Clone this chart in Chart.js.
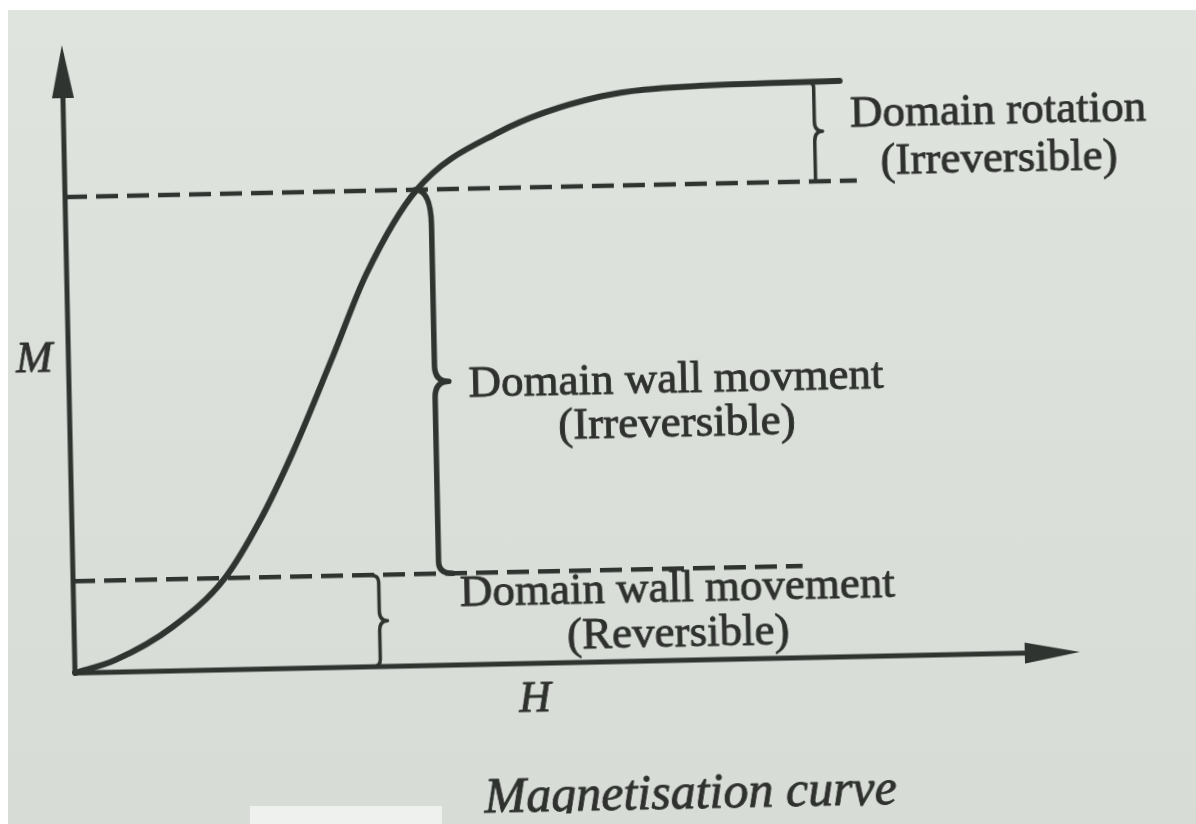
<!DOCTYPE html>
<html>
<head>
<meta charset="utf-8">
<script src="https://cdn.jsdelivr.net/npm/chart.js@4/dist/chart.umd.min.js"></script>
<style>
  html, body { margin: 0; padding: 0; background: #ffffff; width: 1196px; height: 824px; overflow: hidden; }
  #paper { position: absolute; left: 8px; top: 10px; right: 0; bottom: 0;
           background: linear-gradient(180deg, #e0e4df 0%, #dadfd9 55%, #d7dcd6 100%); }
  #patch { position: absolute; left: 250px; top: 806px; width: 192px; height: 18px; background: #eef1ed; }
  #wrap { position: absolute; left: 0; top: 0; width: 1196px; height: 824px;
          transform: rotate(-1.2deg); transform-origin: 75px 673px; }
</style>
</head>
<body>
<div id="paper"></div>
<div id="patch"></div>
<div id="wrap"><canvas id="c" width="1196" height="824"></canvas></div>
<script>
// ---- data (H and M in axis-percent units) ----
const curveH = [0, 4.0, 9.8, 15.1, 18.7, 22.1, 26.3, 29.8, 35.0, 43.2, 53.4, 63.4, 77.3];
const curveM = [0, 1.9, 7.0, 14.6, 23.6, 34.3, 49.5, 62.5, 75.8, 84.6, 90.0, 91.4, 91.7];
const axisMax = [100, 100];              // H tip, M tip
const dashLevels = [14.6, 75.8];         // M levels of dashed lines
const dashEnds = [72.6, 78.8];           // H where the dashed lines stop
const braceH = [30.4, 36.4, 74.7];       // H of each brace
const braceFrom = [0, 14.6, 75.8];       // lower M of each brace
const braceTo = [14.6, 75.8, 91.7];      // upper M of each brace
const labels = [
  ["Domain rotation", "(Irreversible)"],
  ["Domain wall movment", "(Irreversible)"],
  ["Domain wall movement", "(Reversible)"]
];
const axisTitles = ["H", "M"];
const caption = "Magnetisation curve";

const INK = "#303431";

const curveData = curveH.map((h, i) => ({ x: h, y: curveM[i] }));

const datasets = [
  { data: curveData, borderColor: INK, borderWidth: 6, cubicInterpolationMode: "monotone", borderCapStyle: "round" },
  { data: [{ x: 0, y: 0 }, { x: axisMax[0] - 3, y: 0 }], borderColor: INK, borderWidth: 5 },
  { data: [{ x: 0, y: 0 }, { x: 0, y: axisMax[1] - 5 }], borderColor: INK, borderWidth: 5 }
];
dashLevels.forEach((lv, i) => {
  datasets.push({ data: [{ x: 0, y: lv }, { x: dashEnds[i], y: lv }], borderColor: INK, borderWidth: 4.5, borderDash: [22, 9] });
});
datasets.forEach(d => { d.showLine = true; d.pointRadius = 0; d.clip = false; d.fill = false; });

function drawBrace(ctx, x, yTop, yBot, hookTop, hookBot, tip, rTop, rMid, rBot) {
  const yMid = (yTop + yBot) / 2;
  ctx.beginPath();
  ctx.moveTo(x - hookTop, yTop);
  ctx.quadraticCurveTo(x, yTop, x, yTop + rTop);
  ctx.lineTo(x, yMid - rMid);
  ctx.quadraticCurveTo(x, yMid, x + tip, yMid);
  ctx.quadraticCurveTo(x, yMid, x, yMid + rMid);
  ctx.lineTo(x, yBot - rBot);
  ctx.quadraticCurveTo(x, yBot, x - hookBot, yBot);
  ctx.stroke();
}

function inkText(ctx, s, x, y) {
  ctx.fillText(s, x, y);
  ctx.strokeText(s, x, y);
}

const overlay = {
  id: "overlay",
  afterDatasetsDraw(chart) {
    const ctx = chart.ctx, xs = chart.scales.x, ys = chart.scales.y;
    const px = v => xs.getPixelForValue(v), py = v => ys.getPixelForValue(v);
    ctx.save();
    ctx.fillStyle = INK; ctx.strokeStyle = INK;
    // arrowheads
    const x0 = px(0), y0 = py(0), xt = px(axisMax[0]), yt = py(axisMax[1]);
    ctx.beginPath();
    ctx.moveTo(xt, y0); ctx.lineTo(xt - 55, y0 - 10.5); ctx.lineTo(xt - 55, y0 + 10.5); ctx.closePath(); ctx.fill();
    ctx.beginPath();
    ctx.moveTo(x0, yt); ctx.lineTo(x0 - 11, yt + 53); ctx.lineTo(x0 + 11, yt + 53); ctx.closePath(); ctx.fill();
    // braces
    ctx.lineCap = "round"; ctx.lineJoin = "round";
    const styles = [
      { hookTop: 9, hookBot: 8, tip: 8, rTop: 7, rMid: 10, rBot: 7, w: 3.5 },
      { hookTop: 16, hookBot: -14, tip: 14, rTop: 36, rMid: 16, rBot: 12, w: 5.5 },
      { hookTop: 9, hookBot: 0, tip: 8, rTop: 6, rMid: 10, rBot: 6, w: 3.5 }
    ];
    braceH.forEach((h, i) => {
      const s = styles[i];
      ctx.lineWidth = s.w;
      drawBrace(ctx, px(h), py(braceTo[i]), py(braceFrom[i]), s.hookTop, s.hookBot, s.tip, s.rTop, s.rMid, s.rBot);
    });
    // labels
    ctx.textAlign = "center"; ctx.textBaseline = "middle";
    ctx.fillStyle = "#2f312f"; ctx.strokeStyle = "#2f312f"; ctx.lineWidth = 0.9; ctx.lineJoin = "round";
    ctx.font = "45px 'Liberation Serif', 'Times New Roman', serif";
    const pos = [[93.0, 86.3, 78.6], [60.4, 44.6, 37.5], [60.1, 11.2, 4.1]];
    labels.forEach((pair, i) => {
      inkText(ctx, pair[0], px(pos[i][0]), py(pos[i][1]));
      inkText(ctx, pair[1], px(pos[i][0]), py(pos[i][2]));
    });
    ctx.font = "italic 44px 'Liberation Serif', 'Times New Roman', serif";
    inkText(ctx, axisTitles[0], px(45.7), py(-5.8));
    inkText(ctx, axisTitles[1], px(-3.4), py(50));
    ctx.font = "italic 50px 'Liberation Serif', 'Times New Roman', serif";
    inkText(ctx, caption, px(61), py(-21.5));
    ctx.restore();
  }
};

new Chart(document.getElementById("c"), {
  type: "scatter",
  data: { datasets },
  options: {
    responsive: false,
    animation: false,
    devicePixelRatio: 1,
    events: [],
    layout: { padding: { left: 75, right: 116, top: 45, bottom: 151 } },
    plugins: { legend: { display: false }, tooltip: { enabled: false } },
    scales: {
      x: { type: "linear", min: 0, max: axisMax[0], display: false },
      y: { type: "linear", min: 0, max: axisMax[1], display: false }
    }
  },
  plugins: [overlay]
});
</script>
</body>
</html>
